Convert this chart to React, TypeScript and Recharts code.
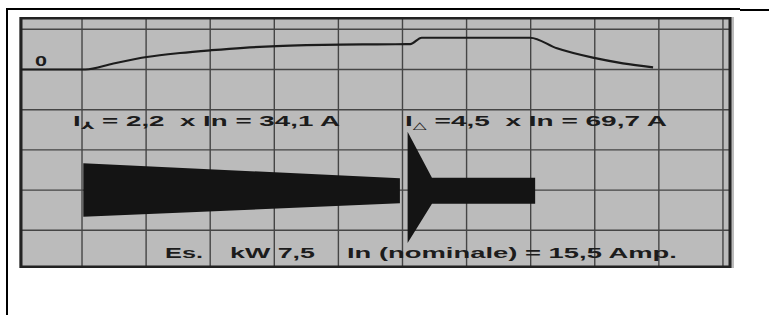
import { ComposedChart, Line, Area, XAxis, YAxis, CartesianGrid, ReferenceArea, ReferenceDot } from 'recharts'

// grid in "divisions": x = time, y = speed (top) / current (bottom)
const X_MIN = -0.952
const X_MAX = 10.11
const Y_MIN = -4.913
const Y_MAX = 1.281
const GRID_X = [0, 1, 2, 3, 4, 5, 6, 7, 8, 9, 10]
const GRID_Y = [-4, -3, -2, -1, 0, 1]

// speed curve
const SPEED = [
  { x: -0.95, y: 0 },
  { x: 0.05, y: 0 },
  { x: 0.49, y: 0.15 },
  { x: 1.01, y: 0.31 },
  { x: 1.53, y: 0.41 },
  { x: 2.02, y: 0.48 },
  { x: 2.52, y: 0.54 },
  { x: 3.04, y: 0.583 },
  { x: 3.5, y: 0.605 },
  { x: 4.03, y: 0.618 },
  { x: 4.6, y: 0.626 },
  { x: 5.12, y: 0.63 },
  { x: 5.3, y: 0.79 },
  { x: 6.99, y: 0.79 },
  { x: 7.41, y: 0.527 },
  { x: 7.97, y: 0.294 },
  { x: 8.44, y: 0.154 },
  { x: 8.91, y: 0.055 },
]

// current envelopes (low, high)
const STAR_CURRENT = [
  { x: 0.02, band: [-3.662, -2.333] },
  { x: 4.96, band: [-3.328, -2.706] },
]
const DELTA_CURRENT = [
  { x: 5.08, band: [-4.316, -1.547] },
  { x: 5.46, band: [-3.34, -2.69] },
  { x: 7.07, band: [-3.34, -2.69] },
]

const ZERO_LABEL = '0'
const STAR_LABEL = ['I', '⅄', ' = 2,2  x In = 34,1 A']
const DELTA_LABEL = ['I', '△', ' =4,5  x In = 69,7 A']
const FOOT_LABELS = ['Es.', 'kW 7,5', 'In (nominale) = 15,5 Amp.']

const INK = '#1c1c1c'
const FONT = '"Liberation Sans", Arial, "DejaVu Sans", sans-serif'

function plain(text: string, len: number, size = 15.5) {
  return {
    content: (p: any) => (
      <text x={p.viewBox.x} y={p.viewBox.y} fill={INK} fontFamily={FONT} fontWeight="bold" fontSize={size}
        textLength={len} lengthAdjust="spacingAndGlyphs" style={{ whiteSpace: 'pre' }}>
        {text}
      </text>
    ),
  }
}

function withSub(parts: string[], len: number) {
  return {
    content: (p: any) => (
      <text x={p.viewBox.x} y={p.viewBox.y} fill={INK} fontFamily={FONT} fontWeight="bold" fontSize={15.5}
        textLength={len} lengthAdjust="spacingAndGlyphs" style={{ whiteSpace: 'pre' }}>
        {parts[0]}
        <tspan fontSize={10} dy={3} fontFamily='"DejaVu Sans", sans-serif'>{parts[1]}</tspan>
        <tspan dy={-3}>{parts[2]}</tspan>
      </text>
    ),
  }
}

export default function App() {
  return (
    <div style={{ position: 'fixed', left: 0, top: 0, width: 769, height: 315, background: '#fff' }}>
      <div style={{ position: 'absolute', left: 6, top: 7.5, width: 734, height: 2, background: '#000' }} />
      <div style={{ position: 'absolute', left: 740, top: 8.5, width: 29, height: 2, background: '#000' }} />
      <div style={{ position: 'absolute', left: 6, top: 8, width: 2, height: 307, background: '#000' }} />
      <div style={{ position: 'absolute', left: 19, top: 17, width: 715, height: 251, background: '#bbbbbb' }}>
        <ComposedChart width={715} height={251} margin={{ top: 1, right: 4, bottom: 1, left: 2 }}>
          <XAxis type="number" dataKey="x" domain={[X_MIN, X_MAX]} ticks={GRID_X} hide allowDataOverflow />
          <YAxis type="number" domain={[Y_MIN, Y_MAX]} ticks={GRID_Y} hide allowDataOverflow />
          <CartesianGrid stroke="#454545" strokeWidth={1.4} />
          <ReferenceArea x1={X_MIN} x2={X_MAX} y1={Y_MIN} y2={Y_MAX} fill="none" stroke="#222" strokeWidth={3} ifOverflow="visible" />
          <Area data={STAR_CURRENT} dataKey="band" type="linear" stroke="none" fill="#141414" fillOpacity={1} isAnimationActive={false} />
          <Area data={DELTA_CURRENT} dataKey="band" type="linear" stroke="none" fill="#141414" fillOpacity={1} isAnimationActive={false} />
          <Line data={SPEED} dataKey="y" type="monotone" stroke={INK} strokeWidth={2.2} dot={false} isAnimationActive={false} />
          <ReferenceDot x={-0.733} y={0.087} r={0} stroke="none" label={plain(ZERO_LABEL, 12, 14)} />
          <ReferenceDot x={-0.14} y={-1.405} r={0} stroke="none" label={withSub(STAR_LABEL, 267)} />
          <ReferenceDot x={5.04} y={-1.405} r={0} stroke="none" label={withSub(DELTA_LABEL, 262)} />
          <ReferenceDot x={1.295} y={-4.689} r={0} stroke="none" label={plain(FOOT_LABELS[0], 38)} />
          <ReferenceDot x={2.309} y={-4.689} r={0} stroke="none" label={plain(FOOT_LABELS[1], 85)} />
          <ReferenceDot x={4.134} y={-4.689} r={0} stroke="none" label={plain(FOOT_LABELS[2], 330)} />
        </ComposedChart>
      </div>
    </div>
  )
}
